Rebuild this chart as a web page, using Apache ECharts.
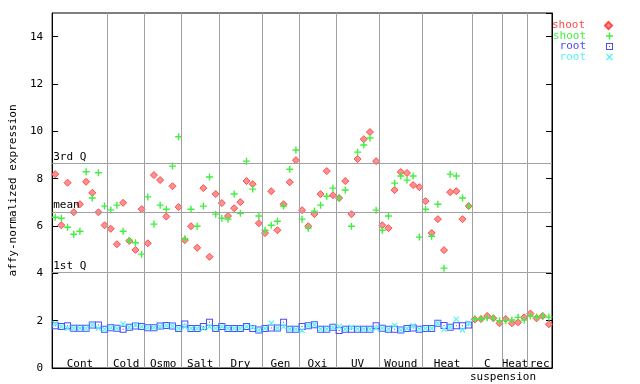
<!DOCTYPE html>
<html>
<head>
<meta charset="utf-8">
<script src="https://cdn.jsdelivr.net/npm/echarts@6/dist/echarts.min.js"></script>
<style>html,body{margin:0;padding:0;background:#fff}#chart{width:640px;height:384px}</style>
</head>
<body>
<div id="chart"></div>
<script>
// ---- data ----
const groupNames = ['Cont','Cold','Osmo','Salt','Dry','Gen','Oxi','UV','Wound','Heat','C','Heat','rec'];
const groupSizes = [9,6,6,6,7,6,6,7,7,8,5,4,4];
const subLabel = 'suspension';

const shootRed = [8.19,6.03,7.83,6.58,6.92,7.87,7.40,6.58,6.03,5.88,5.23,6.98,5.37,4.99,6.71,5.27,8.15,7.94,6.40,7.68,6.80,5.40,5.99,5.08,7.60,4.70,7.35,6.97,6.42,6.75,7.01,7.90,7.77,6.12,5.70,7.47,5.82,6.92,7.85,8.78,6.67,5.99,6.50,7.35,8.32,7.30,7.18,7.90,6.50,8.83,9.67,9.97,8.74,6.03,5.91,7.52,8.28,8.24,7.73,7.64,7.05,5.70,6.29,4.98,7.43,7.47,6.29,6.84,2.05,2.07,2.20,2.10,1.89,2.07,1.89,1.93,2.14,2.30,2.10,2.20,1.85];
const shootGreen = [6.37,6.33,5.95,5.65,5.78,8.29,7.18,8.25,6.84,6.68,6.88,5.78,5.40,5.29,4.81,7.23,6.08,6.88,6.71,8.53,9.77,5.46,6.71,5.99,6.84,8.07,6.50,6.33,6.29,7.35,6.54,8.74,7.56,6.42,5.82,6.03,6.20,6.84,8.40,9.21,6.29,5.91,6.63,6.88,7.26,7.60,7.18,7.52,5.99,9.12,9.42,9.72,6.67,5.82,6.42,7.81,8.11,7.94,8.11,5.53,6.71,5.57,6.92,4.22,8.19,8.11,7.18,6.84,2.08,2.07,2.12,2.11,2.00,2.00,2.03,2.14,2.03,2.20,2.15,2.20,2.15];
const rootBlue = [1.79,1.75,1.79,1.68,1.68,1.68,1.82,1.82,1.64,1.70,1.68,1.64,1.72,1.77,1.75,1.70,1.70,1.77,1.80,1.77,1.67,1.86,1.67,1.67,1.75,1.93,1.67,1.75,1.67,1.67,1.67,1.75,1.67,1.61,1.67,1.69,1.69,1.93,1.64,1.64,1.75,1.78,1.83,1.64,1.64,1.72,1.58,1.64,1.64,1.64,1.64,1.64,1.78,1.68,1.64,1.64,1.61,1.67,1.69,1.64,1.67,1.67,1.89,1.80,1.72,1.78,1.78,1.82];
const rootCyan = [1.88,1.75,1.68,1.68,1.68,1.68,1.82,1.68,1.64,1.70,1.68,1.86,1.72,1.82,1.75,1.70,1.70,1.75,1.80,1.77,1.67,1.75,1.67,1.67,1.68,1.75,1.67,1.75,1.67,1.67,1.67,1.75,1.72,1.61,1.67,1.89,1.69,1.75,1.64,1.64,1.58,1.78,1.83,1.64,1.64,1.72,1.75,1.64,1.72,1.64,1.64,1.64,1.68,1.68,1.64,1.80,1.61,1.67,1.78,1.64,1.67,1.67,1.89,1.64,1.72,2.06,1.61,1.89];

const quantileValues = [4.05, 6.59, 8.65];
const quantileLabels = ['1st Q', 'mean', '3rd Q'];

const seriesNames = ['shoot', 'shoot', 'root', 'root'];
const seriesColors = ['#ff4a4a', '#40f040', '#4a4aff', '#55f5f5'];

// ---- derived ----
const boundaries = [];
const centers = [];
let acc = 0;
groupSizes.forEach((s, k) => {
  centers.push(acc + (s - 1) / 2);
  acc += s;
  if (k < groupSizes.length - 1) boundaries.push(acc - 0.5);
});
const total = acc;
const toXY = arr => arr.map((v, i) => [i, v]);

const FONT = 'DejaVu Sans Mono';
const symDiamond = 'path://M3.5,0L7,3.5L3.5,7L0,3.5Z';
const symPlus = 'path://M2.8,0H4.2V2.8H7V4.2H4.2V7H2.8V4.2H0V2.8H2.8Z';
const symBox = 'path://M0,0H7V7H0Z M1,1V6H6V1Z M3,3H4V4H3Z';
const symX = 'path://M0,1L1,0L3.5,2.5L6,0L7,1L4.5,3.5L7,6L6,7L3.5,4.5L1,7L0,6L2.5,3.5Z';

const chart = echarts.init(document.getElementById('chart'), null, {renderer: 'canvas'});

const legendTops = [20, 30.5, 41, 51.5];
const legends = seriesNames.map((n, k) => ({
  data: [{name: 'S' + k, textStyle: {color: seriesColors[k]}}],
  formatter: () => n,
  right: 27, top: legendTops[k], padding: 0,
  align: 'right', orient: 'vertical',
  itemWidth: 7, itemHeight: 7, selectedMode: false,
  textStyle: {fontFamily: FONT, fontSize: 11, color: seriesColors[k], padding: [0, 15, 0, 0]}
}));

const option = {
  animation: false,
  backgroundColor: '#fff',
  grid: {left: 44, right: 88, top: 13, bottom: 16, show: true, borderColor: '#000', borderWidth: 1},
  legend: legends,
  xAxis: {
    type: 'value', min: -0.5, max: total - 0.5,
    axisLine: {show: true, onZero: false, lineStyle: {color: '#000'}},
    axisTick: {show: false},
    splitLine: {show: false},
    axisLabel: {
      show: true, inside: true, margin: -2,
      customValues: centers,
      formatter: v => { const k = centers.findIndex(c => Math.abs(c - v) < 1e-6); return k >= 0 ? groupNames[k] : ''; },
      fontFamily: FONT, fontSize: 11, color: '#000'
    }
  },
  yAxis: [{
    type: 'value', min: 0, max: 15, interval: 2,
    name: 'affy-normalized expression', nameLocation: 'middle', nameGap: 27,
    nameTextStyle: {fontFamily: FONT, fontSize: 11, color: '#000'},
    axisLine: {show: true, onZero: false, lineStyle: {color: '#000'}},
    axisTick: {show: true, inside: true, length: 6, lineStyle: {color: '#000'}},
    axisLabel: {fontFamily: FONT, fontSize: 11, color: '#000', margin: 9, showMaxLabel: false},
    splitLine: {show: false}
  }, {
    type: 'value', min: 0, max: 15, interval: 2, position: 'right',
    axisLine: {show: true, onZero: false, lineStyle: {color: '#000'}},
    axisTick: {show: true, inside: true, length: 6, lineStyle: {color: '#000'}},
    axisLabel: {show: false},
    splitLine: {show: false}
  }],
  graphic: [{
    type: 'text', x: 503, y: 377,
    style: {text: subLabel, font: '11px "DejaVu Sans Mono"', fill: '#000', textAlign: 'center', textVerticalAlign: 'middle'}
  }],
  series: [
    {
      type: 'scatter', name: 'guides', data: [], z: 1, silent: true,
      markLine: {
        silent: true, symbol: 'none', animation: false,
        lineStyle: {color: '#a0a0a0', width: 1, type: 'solid'},
        label: {show: false},
        data: boundaries.map(b => ({xAxis: b}))
      }
    },
    {
      type: 'scatter', name: 'quant', data: [], z: 1, silent: true,
      markLine: {
        silent: true, symbol: 'none', animation: false,
        lineStyle: {color: '#a0a0a0', width: 1, type: 'solid'},
        label: {show: true, position: 'insideStartTop', distance: [1, 1], fontFamily: FONT, fontSize: 11, color: '#000', formatter: p => p.name},
        data: quantileValues.map((q, k) => ({yAxis: q, name: quantileLabels[k]}))
      }
    },
    {type: 'scatter', name: 'S0', data: toXY(shootRed), symbol: symDiamond, symbolSize: 7, z: 3,
     itemStyle: {color: '#ff9090', borderColor: seriesColors[0], borderWidth: 1, opacity: 1}},
    {type: 'scatter', name: 'S1', data: toXY(shootGreen), symbol: symPlus, symbolSize: 7, z: 4,
     itemStyle: {color: seriesColors[1], opacity: 1}},
    {type: 'scatter', name: 'S2', data: toXY(rootBlue), symbol: symBox, symbolSize: 7, z: 5,
     itemStyle: {color: seriesColors[2], opacity: 1}},
    {type: 'scatter', name: 'S3', data: toXY(rootCyan), symbol: symX, symbolSize: 6, z: 6,
     itemStyle: {color: seriesColors[3], opacity: 1}}
  ]
};
chart.setOption(option);
</script>
</body>
</html>
